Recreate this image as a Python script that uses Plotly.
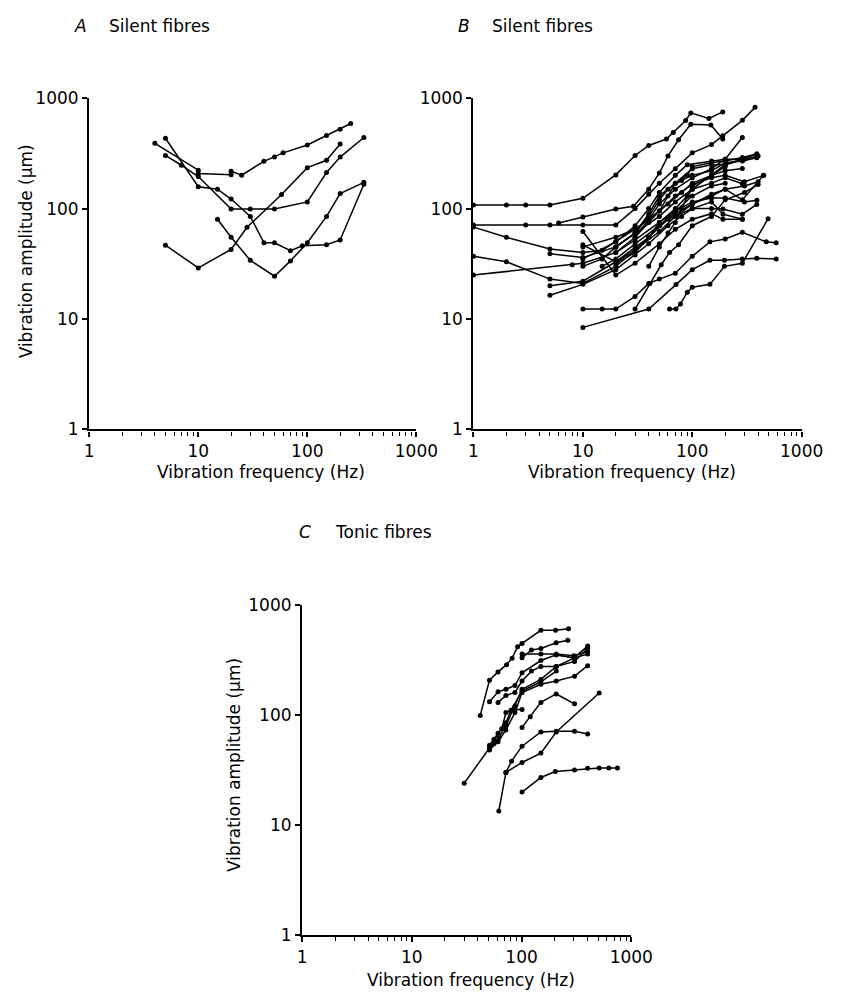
import plotly.graph_objects as go

W, H = 843, 998

# ---------------- data ----------------
tick_vals = [1, 10, 100, 1000]
tick_text = ["1", "10", "100", "1000"]
minor_vals = [m * 10 ** k for k in range(3) for m in range(2, 10)]

# Panel A: silent fibres (frequency in Hz, amplitude in um)
silent_a_freq = [
    [4, 10, 10, 20, 20, 25, 40, 50, 60, 100, 150, 200, 250],
    [5, 7, 10, 20, 30, 50, 100, 150, 200, 330],
    [5, 10, 15, 20, 30, 40, 50, 70, 90, 150, 200, 330],
    [5, 10, 20, 28, 58, 100, 150, 200],
    [15, 20, 30, 50, 70, 100, 150, 200, 330],
]
silent_a_amp = [
    [390, 223, 208, 203, 218, 201, 268, 293, 320, 377, 459, 522, 590],
    [303, 247, 195, 99, 99, 99, 115, 212, 293, 441],
    [434, 158, 150, 122, 85, 49, 49, 41.5, 46, 47, 52, 166],
    [46.6, 29, 42.7, 67.7, 134, 235, 274, 384],
    [80, 55, 34, 24.4, 33.6, 49, 85, 137, 173],
]

# Panel B: silent fibres
silent_b_freq = [
    [1, 2, 3, 5, 10, 20, 30, 40, 58, 67, 87, 97, 142, 190],
    [1, 3, 5, 10, 20, 30, 40, 50, 70, 100, 150, 190, 287, 375],
    [6, 10, 20, 29, 40, 50, 60, 75, 97, 148, 190],
    [1, 2, 5, 10, 15, 20, 30, 50, 70, 100, 150, 200, 300, 450],
    [1, 2, 5, 10, 20, 30, 50, 70, 100, 150, 200, 300, 400],
    [1, 8, 10, 20, 30, 50, 70, 100, 150, 200, 300, 390],
    [5, 10, 20, 30, 50, 70, 100, 150, 200, 300, 400],
    [5, 10, 20, 30, 40, 60, 100, 150, 191, 287, 389],
    [5, 10, 20, 30, 40, 60, 80, 100, 150, 191, 287],
    [10, 20, 30, 50, 70, 100, 150, 191, 287],
    [10, 15, 20, 30, 40, 50, 70, 100, 145, 200, 287, 475, 585],
    [10, 40, 71, 100, 145, 197, 287, 389, 585],
    [30, 41, 52, 62, 75, 100, 150, 200, 300, 400],
    [62, 71, 78, 90, 100, 145, 197, 287, 493],
    [20, 30, 40, 50, 70, 100, 150, 200, 287],
    [10, 20, 30, 40, 50, 70, 90, 150, 200, 287, 389],
    [10, 15, 20, 30, 40, 50, 60, 80, 100, 150, 200, 287, 389],
    [20, 30, 40, 50, 70, 100, 150, 200, 287],
    [10, 20, 30, 40, 60, 80, 100, 150, 200, 287],
    [15, 20, 30, 50, 70, 100, 150, 200, 287, 446],
    [20, 30, 40, 50, 70, 90, 100, 150, 200, 287],
    [10, 20, 30, 40, 50, 70, 100, 150, 200],
    [40, 50, 60, 70, 80, 90, 100, 150, 200],
    [30, 40, 50, 60, 70, 90, 100, 150, 200, 287, 389],
]
silent_b_amp = [
    [108, 108, 108, 108, 124, 202, 303, 373, 427, 489, 629, 736, 656, 751],
    [71, 71, 71, 71, 71, 100, 135, 170, 230, 320, 380, 457, 630, 826],
    [74, 84, 99, 105, 150, 210, 300, 420, 580, 572, 427],
    [68, 55, 43, 40, 42, 50, 65, 95, 130, 165, 190, 200, 175, 200],
    [37, 33, 23, 21, 30, 42, 62, 85, 110, 135, 150, 160, 175],
    [25, 31, 32, 40, 52, 75, 95, 115, 125, 125, 115, 119],
    [39, 36, 45, 60, 85, 115, 150, 200, 250, 280, 300],
    [20, 22, 33, 45, 55, 80, 100, 100, 99, 89, 109],
    [16.4, 20.6, 28, 38, 48, 70, 85, 100, 115, 89, 80],
    [62, 25, 32, 48, 65, 80, 90, 80, 80],
    [12.3, 12.3, 12.3, 16, 21, 23, 26, 37, 50, 53, 61, 50, 49],
    [8.4, 12.3, 20.5, 28, 34, 34, 35, 35.5, 35],
    [12.3, 21, 31, 40, 47, 70, 85, 120, 140, 165],
    [12.3, 12.3, 13.7, 17.5, 19.4, 20.6, 30, 32, 81],
    [40, 55, 80, 110, 150, 190, 230, 280, 441],
    [35, 50, 70, 100, 140, 200, 250, 270, 280, 280, 313],
    [30, 35, 45, 60, 85, 120, 150, 180, 200, 220, 260, 270, 289],
    [45, 60, 90, 130, 170, 230, 250, 250, 283],
    [45, 55, 65, 80, 110, 140, 170, 200, 220, 231],
    [30, 35, 48, 70, 90, 110, 130, 150, 120, 199],
    [32, 40, 55, 75, 100, 130, 150, 170, 190, 168],
    [47, 33, 42, 55, 70, 95, 130, 160, 170],
    [30, 45, 60, 75, 100, 130, 160, 200, 240],
    [55, 75, 95, 130, 170, 200, 240, 260, 270, 290, 313],
]

# Panel C: tonic fibres
tonic_freq = [
    [42, 51, 61, 73, 82, 92, 101, 150, 204, 268],
    [101, 123, 150, 207, 264],
    [101, 150, 207, 300, 400],
    [51, 61, 72, 87, 101, 150, 207, 300, 400],
    [61, 72, 87, 101, 123, 150, 207, 304, 400],
    [30, 51, 56, 62, 72, 87, 101, 150, 207, 304, 400],
    [51, 61, 72, 87, 101, 150, 207, 304, 400],
    [56, 66, 72, 87, 101],
    [51, 61, 72, 80, 101, 150, 207],
    [101, 120, 150, 207, 304],
    [62, 72, 81, 101, 150, 207, 304, 400],
    [72, 101, 150, 207, 510],
    [101, 150, 203, 304, 400, 510, 625, 748],
]
tonic_amp = [
    [99, 207, 246, 286, 328, 417, 446, 587, 587, 607],
    [330, 389, 402, 452, 477],
    [358, 358, 358, 345, 376],
    [132, 162, 171, 185, 241, 312, 351, 330, 422],
    [130, 150, 160, 203, 250, 276, 276, 306, 402],
    [24, 50, 55, 62, 80, 120, 171, 210, 276, 330, 358],
    [48, 57, 73, 105, 160, 190, 203, 225, 280],
    [60, 75, 105, 112, 112],
    [53, 68, 85, 110, 165, 200, 250],
    [77, 96, 130, 155, 126],
    [13.4, 30, 38, 52, 70, 71, 71, 67],
    [30, 37, 45, 70, 158],
    [19.9, 27, 30.6, 31.6, 32.7, 33, 33, 33],
]

# ---------------- figure ----------------
FONT = "DejaVu Sans"
INK = "black"


def px(x):
    return x / W


def py(y):
    return 1 - y / H


fig = go.Figure()

panels = [
    ("x", "y", silent_a_freq, silent_a_amp),
    ("x2", "y2", silent_b_freq, silent_b_amp),
    ("x3", "y3", tonic_freq, tonic_amp),
]
for xa, ya, freqs, amps in panels:
    for f, a in zip(freqs, amps):
        fig.add_trace(go.Scatter(
            x=f, y=a, xaxis=xa, yaxis=ya, mode="lines+markers",
            line=dict(color=INK, width=1.5),
            marker=dict(color=INK, size=5),
            showlegend=False, hoverinfo="skip", cliponaxis=False,
        ))

axis_common = dict(
    type="log", range=[0, 3], showgrid=False, zeroline=False,
    showline=True, linecolor=INK, linewidth=2.4,
    ticks="outside", ticklen=5, tickwidth=1.5, tickcolor=INK,
    tickvals=tick_vals, ticktext=tick_text,
    tickfont=dict(family=FONT, size=17, color=INK),
)
xminor = dict(ticks="outside", ticklen=4, tickwidth=1.3, tickcolor=INK,
              tickvals=minor_vals, showgrid=False)

# pixel boxes of each plot area: (left, right, top, bottom)
boxes = {
    "": (87, 425, 90, 428),
    "2": (484, 823, 90, 428),
    "3": (307, 647, 607, 944),
}
layout = {}
for key, (l, r, t, b) in boxes.items():
    layout["xaxis" + key] = dict(axis_common, domain=[px(l), px(r)],
                                 anchor="y" + key, minor=xminor)
    layout["yaxis" + key] = dict(axis_common, domain=[py(b), py(t)],
                                 anchor="x" + key)

annots = []
title_font = dict(family=FONT, size=17, color=INK)


def label(text, x, y, anchor="left", angle=0):
    annots.append(dict(x=px(x), y=py(y), xref="paper", yref="paper",
                       text=text, showarrow=False, textangle=angle,
                       xanchor=anchor, yanchor="middle", font=title_font,
                       borderpad=0))


# panel headings
for letter, text, xl, xt, yl in [("A", "Silent fibres", 70, 106, 16),
                                 ("B", "Silent fibres", 467, 502, 16),
                                 ("C", "Tonic fibres", 303, 340, 533)]:
    label(f"<i>{letter}</i>", xl, yl)
    label(text, xt, yl)

# axis titles
for xc, yc in [(264, 471), (648, 471), (481, 990)]:
    label("Vibration frequency (Hz)", xc, yc, anchor="center")
for xc, yc in [(22, 246), (236, 770)]:
    label("Vibration amplitude (μm)", xc, yc, anchor="center", angle=-90)

fig.update_layout(
    width=W, height=H, autosize=False,
    margin=dict(l=0, r=0, t=0, b=0),
    paper_bgcolor="white", plot_bgcolor="white",
    annotations=annots,
    **layout,
)

fig.write_html("out.html")
